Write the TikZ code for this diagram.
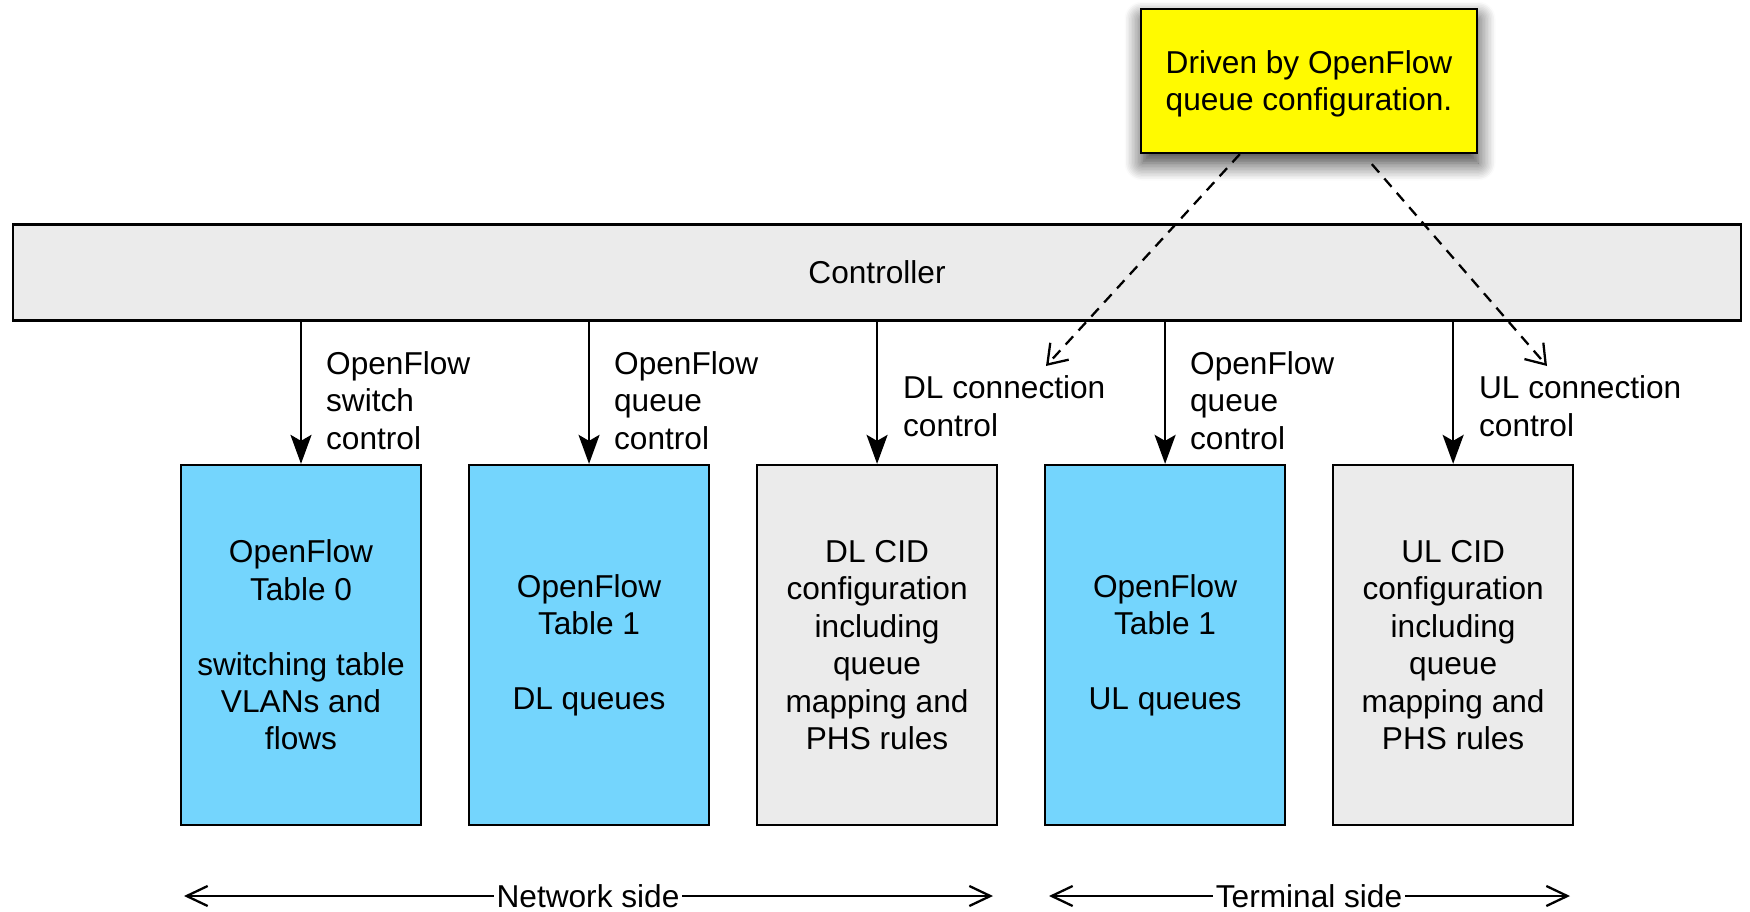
\documentclass[tikz,border=0pt]{standalone}
\usepackage{fontspec}
\setmainfont{Liberation Sans}
\usepackage{tikz}
\usetikzlibrary{arrows.meta,shadows,shadows.blur,positioning}

\definecolor{ctrlgrey}{HTML}{EBEBEB}
\definecolor{ofblue}{HTML}{74D5FD}
\definecolor{noteyellow}{HTML}{FFFA00}

\begin{document}
\begin{tikzpicture}[font=\fontsize{18}{21.3}\selectfont]
      \tikzstyle{every node}=[line width=1.3pt]
      \tikzstyle{ctrl}=[draw,fill=ctrlgrey,minimum width=34.56cm,minimum height=1.92cm,inner sep=0pt]
      \tikzstyle{bluebox}=[draw,fill=ofblue,align=center,minimum width=4.8cm,minimum height=7.2cm,inner sep=0pt]
      \tikzstyle{greybox}=[bluebox,fill=ctrlgrey]
      \tikzstyle{note}=[draw,fill=noteyellow,align=center,minimum width=6.72cm,minimum height=2.88cm,inner sep=0pt,
                        blur shadow={shadow xshift=0.02cm,shadow yshift=-0.2cm,shadow opacity=80,shadow blur radius=0.35cm,shadow blur steps=12}]
      \tikzstyle{lbl}=[align=left,anchor=west,inner sep=0pt]
      \tikzstyle{ctrlarrow}=[line width=1.3pt,-{Stealth[length=0.58cm,width=0.42cm,inset=0.12cm]}]
      \tikzstyle{cfgarrow}=[line width=1.3pt,dash pattern=on 0.22cm off 0.16cm,-{Straight Barb[length=0.36cm,width=0.5cm]}]
      \tikzstyle{sidearrow}=[line width=1.3pt,-{Straight Barb[length=0.42cm,width=0.4cm]}]
      \useasboundingbox (0,0) rectangle (35,-18.24);
      % controller and note
      \node[ctrl] (controller) at (17.54,-5.45) {Controller};
      \node[note] (driven) at (26.18,-1.62) {\raisebox{-2pt}[\height][\depth]{\begin{tabular}{@{}c@{}}Driven by OpenFlow\\queue configuration.\end{tabular}}};
      % tables and configuration boxes
      \node[bluebox] (table0) at (6.02,-12.9) {OpenFlow\\Table 0\\[21.3pt]switching table\\VLANs and\\flows};
      \node[bluebox,right=0.915cm of table0] (dlqueues) {OpenFlow\\Table 1\\[21.3pt]DL queues};
      \node[greybox,right=0.915cm of dlqueues] (dlcid) {DL CID\\configuration\\including\\queue\\mapping and\\PHS rules};
      \node[bluebox,right=0.915cm of dlcid] (ulqueues) {OpenFlow\\Table 1\\[21.3pt]UL queues};
      \node[greybox,right=0.915cm of ulqueues] (ulcid) {UL CID\\configuration\\including\\queue\\mapping and\\PHS rules};
      % control arrows
      \foreach \b in {table0,dlqueues,dlcid,ulqueues,ulcid}
        \draw[ctrlarrow] (controller.south -| \b.north) -- (\b.north);
      \node[lbl] (swctl) at (6.5,-8.01) {OpenFlow\\switch\\control};
      \node[lbl] (dlqctl) at (12.26,-8.01) {OpenFlow\\queue\\control};
      \node[lbl] (dlconn) at (18.04,-8.12) {DL connection\\control};
      \node[lbl] (ulqctl) at (23.78,-8.01) {OpenFlow\\queue\\control};
      \node[lbl] (ulconn) at (29.56,-8.12) {UL connection\\control};
      % dashed configuration arrows
      \coordinate (dltip) at (20.92,-7.32);
      \coordinate (ultip) at (30.94,-7.32);
      \draw[cfgarrow] ([xshift=2.0cm]driven.south west) -- (dltip);
      \draw[cfgarrow] ([xshift=4.64cm,yshift=-0.2cm]driven.south west) -- (ultip);
      % sides
      \node[inner sep=1pt] (netside) at (11.76,-17.92) {Network side};
      \node[inner sep=1pt] (termside) at (26.18,-17.92) {Terminal side};
      \coordinate (netL) at (3.68,-17.92);
      \coordinate (netR) at (19.86,-17.92);
      \coordinate (termL) at (20.98,-17.92);
      \coordinate (termR) at (31.4,-17.92);
      \draw[sidearrow] (netside.west) -- (netL);
      \draw[sidearrow] (netside.east) -- (netR);
      \draw[sidearrow] (termside.west) -- (termL);
      \draw[sidearrow] (termside.east) -- (termR);
\end{tikzpicture}
\end{document}
